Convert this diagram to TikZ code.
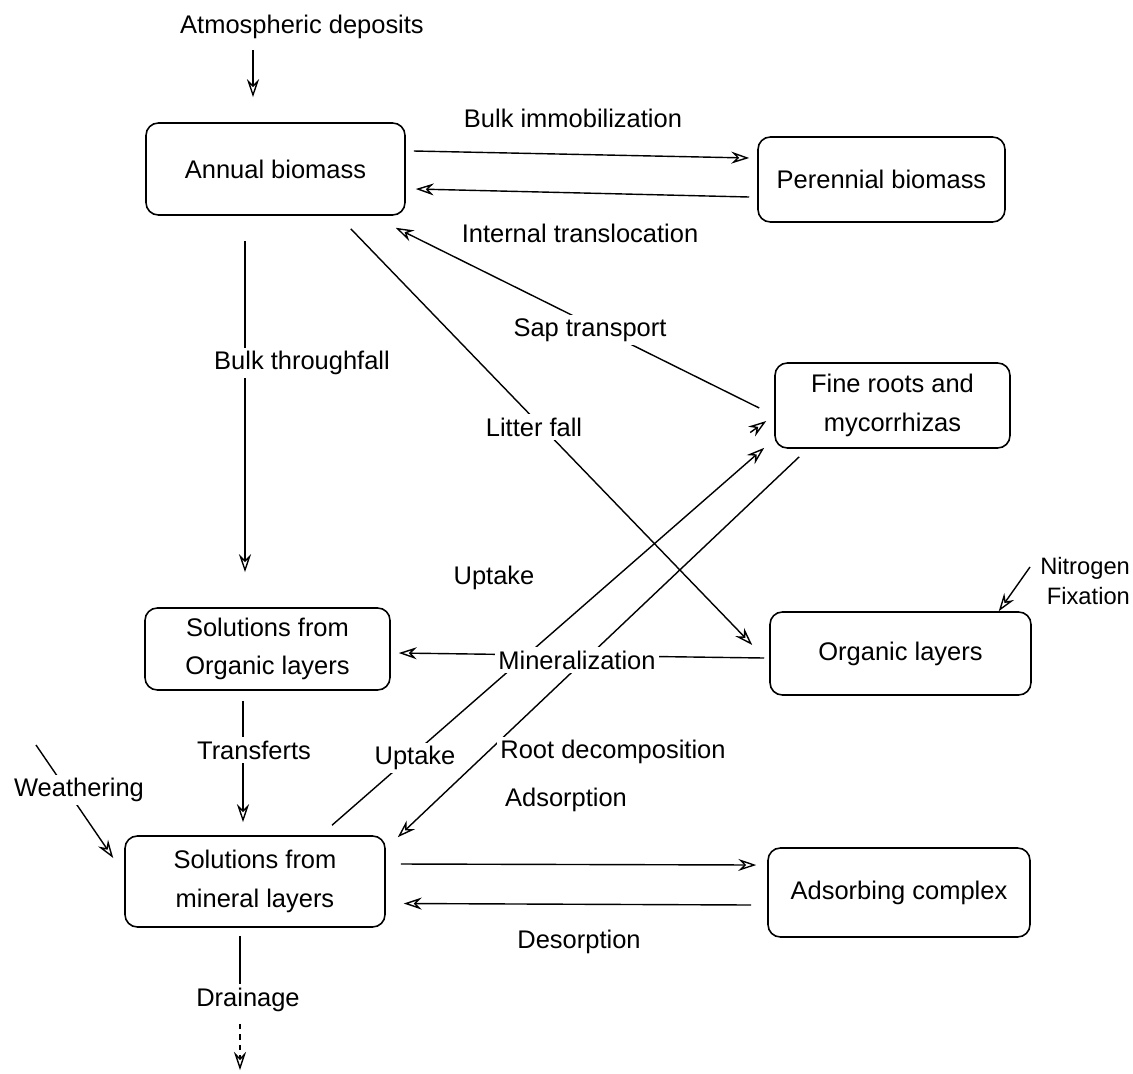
\documentclass[tikz,border=0pt]{standalone}
\usepackage{fontspec}
\setmainfont{Liberation Sans}
\usetikzlibrary{arrows.meta,calc}
\begin{document}
\begin{tikzpicture}[x=0.02cm,y=-0.02cm,
  font=\fontsize{14.5}{22}\selectfont,
  box/.style={draw, line width=0.9pt, rounded corners=7pt, align=center, inner sep=2pt},
  lbl/.style={fill=white, inner sep=2pt, align=center},
  ln/.style={line width=0.8pt},
  arr/.style={line width=0.8pt, -{Stealth[open,length=3.6mm,width=2.4mm,inset=1.2mm]}}]
\useasboundingbox (0,0) rectangle (1133,1073);

% boxes
\node[box, minimum width=5.18cm, minimum height=1.84cm] (annual) at (275.5,169) {Annual biomass};
\node[box, minimum width=4.94cm, minimum height=1.70cm] (perennial) at (881.5,179.5) {Perennial biomass};
\node[box, minimum width=4.70cm, minimum height=1.70cm] (fine) at (892.5,405.5) {Fine roots and\\mycorrhizas};
\node[box, minimum width=4.90cm, minimum height=1.64cm] (orgsol) at (267.5,649) {Solutions from\\Organic layers};
\node[box, minimum width=5.22cm, minimum height=1.66cm] (organic) at (900.5,653.5) {Organic layers};
\node[box, minimum width=5.20cm, minimum height=1.82cm] (minsol) at (255,881.5) {Solutions from\\mineral layers};
\node[box, minimum width=5.24cm, minimum height=1.78cm] (adsorb) at (899,892.5) {Adsorbing complex};

% free labels
\node (atm) at (302,27) {Atmospheric deposits};
\node (bulkimm) at (573,118) {Bulk immobilization};
\node (internal) at (580,233) {Internal translocation};
\node (adsorp) at (566,800) {Adsorption};
\node (desorp) at (579,942) {Desorption};
\node[align=right, anchor=east, inner sep=1pt, font=\fontsize{13.5}{17.5}\selectfont] (nfix) at (1132,581) {Nitrogen\\Fixation};

% connectors
\draw[arr] ($(atm)+(-49,23)$) -- ($(annual.north)+(-22.5,-25)$);
\draw[arr] ($(annual.east)+(8,-18)$) -- ($(perennial.west)+(-8,-21.5)$);
\draw[arr] ($(perennial.west)+(-8,17.5)$) -- ($(annual.east)+(10,20)$);
\draw[arr] ($(fine.west)+(-15,2.5)$) -- ($(annual.south east)+(-10,12)$);
\draw[arr] ($(annual.south east)+(-55,13)$) -- ($(organic.west)+(-17,-8.5)$);
\draw[arr] ($(annual.south)+(-30.5,25)$) -- ($(orgsol.north)+(-22.5,-35)$);
\draw[arr] ($(organic.west)+(-5,4.5)$) -- ($(orgsol.east)+(8,4)$);
\draw[arr] ($(orgsol.south)+(-24.5,10)$) -- ($(minsol.north)+(-12,-13)$);
\draw[arr] ($(minsol.north)+(77,-10)$) -- ($(fine.south west)+(-10,-1)$);
\draw[arr] ($(fine.south west)+(25,8)$) -- ($(minsol.north east)+(12,2)$);
\coordinate (w0) at (36,745);
\draw[arr] (w0) -- ($(minsol.west)+(-11,-23.5)$);
\draw[arr] ($(nfix.east)+(-102,-14)$) -- ($(organic.north east)+(-33,0)$);
\draw[arr] ($(minsol.east)+(15,-17.5)$) -- ($(adsorb.west)+(-11,-27.5)$);
\draw[arr] ($(adsorb.west)+(-16,12.5)$) -- ($(minsol.east)+(18,22)$);
% lone arrowhead near fine roots
\draw[arr] ($(fine.west)+(-24,27)$) -- ($(fine.west)+(-8,15.5)$);
% drainage
\node[lbl] (drain) at (248,1000) {Drainage};
\coordinate (dend) at (240,1070);
\draw[ln] ($(minsol.south)+(-15,8)$) -- ($(drain.north)+(-8,0)$);
\draw[arr, dash pattern=on 3pt off 3pt] ($(drain.south)+(-8,8)$) -- (dend);

% labels on connectors
\node[lbl] (sap) at (590,330) {Sap transport};
\node[lbl] (litter) at (534,427) {Litter fall};
\node[lbl] (bulkthr) at (302,363) {Bulk throughfall};
\node[lbl] (uptake1) at (494,578) {Uptake};
\node[lbl] (mineral) at (577,660) {Mineralization};
\node[lbl] (uptake2) at (415,758) {Uptake};
\node[lbl] (rootdec) at (613,752) {Root decomposition};
\node[lbl] (transf) at (254,750) {Transferts};
\node[lbl] (weath) at (79,790) {Weathering};
\end{tikzpicture}
\end{document}
